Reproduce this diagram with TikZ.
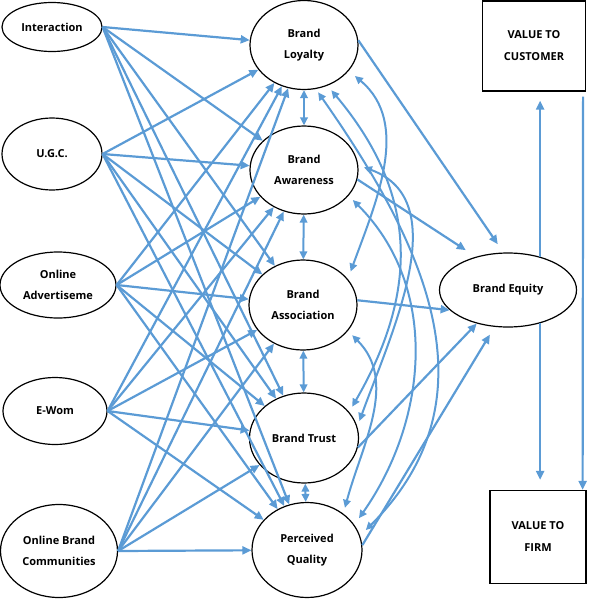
\documentclass[tikz,border=0pt]{standalone}
\usepackage{fontspec}
\setmainfont{Open Sans}
\usetikzlibrary{arrows.meta,shapes.geometric,calc}
\definecolor{linkblue}{RGB}{91,155,213}

\begin{document}
\begin{tikzpicture}[x=1pt, y=-1pt,
    oval/.style   = {ellipse, draw=black, line width=1.2pt, fill=white, inner sep=0pt,
                     align=center, font=\fontsize{11}{21}\selectfont\bfseries},
    valbox/.style = {rectangle, draw=black, line width=1.2pt, fill=white, inner sep=0pt,
                     align=center, font=\fontsize{11}{22}\selectfont\bfseries},
    arr/.style    = {-{Triangle[length=9pt,width=8pt]}, line width=2.2pt, draw=linkblue},
    darr/.style   = {{Triangle[length=8pt,width=7.5pt]}-{Triangle[length=8pt,width=7.5pt]},
                     line width=2pt, draw=linkblue}
  ]
    \useasboundingbox (0,0) rectangle (591,600);

    % online activities
    \node[oval, minimum width=100pt, minimum height=49pt] (inter) at (52,27)  {Interaction};
    \node[oval, minimum width=100pt, minimum height=72pt] (ugc)   at (52,154) {U.G.C.};
    \node[oval, minimum width=116pt, minimum height=66pt] (adv)   at (58,285) {Online\\Advertiseme};
    \node[oval, minimum width=104pt, minimum height=67pt] (ewom)  at (55,411) {E-Wom};
    \node[oval, minimum width=117pt, minimum height=93pt] (obc)   at (59,551) {Online Brand\\Communities};

    % brand equity dimensions
    \node[oval, minimum width=108pt, minimum height=89pt] (loy)   at (304,45)  {Brand\\Loyalty};
    \node[oval, minimum width=108pt, minimum height=88pt] (awa)   at (304,170) {Brand\\Awareness};
    \node[oval, minimum width=108pt, minimum height=90pt] (assoc) at (303,305) {Brand\\Association};
    \node[oval, minimum width=109pt, minimum height=90pt] (trust) at (304,438) {Brand Trust};
    \node[oval, minimum width=110pt, minimum height=95pt] (perc)  at (307,550) {Perceived\\Quality};

    \node[oval, minimum width=137pt, minimum height=74pt] (equity) at (508,290) {Brand Equity};

    \node[valbox, minimum width=103pt, minimum height=90pt] (cust) at (534,46)  {VALUE TO\\CUSTOMER};
    \node[valbox, minimum width=96pt,  minimum height=93pt] (firm) at (538,537) {VALUE TO\\FIRM};

    % every activity to every dimension
    \foreach \src in {inter,ugc,adv,ewom,obc}
      \foreach \dst in {loy,awa,assoc,trust,perc}
        \draw[arr] (\src.east) -- (\dst);

    % neighbouring dimensions
    \foreach \a/\b in {loy/awa,awa/assoc,assoc/trust,trust/perc}
      \draw[darr] (\a) -- (\b);

    % covariances further apart
    \draw[darr, shorten <=8pt, shorten >=8pt] (loy.-30) to[out=-40,in=70] (assoc.30);
    \draw[darr, shorten <=6pt, shorten >=6pt] (loy.-60) to[out=-50,in=60,looseness=1.1] (trust.30);
    \draw[darr, shorten <=4pt, shorten >=8pt] (loy.-75) to[out=-55,in=45,looseness=1.1] (perc.15);
    \draw[darr, shorten <=6pt, shorten >=6pt] (awa.5) to[out=-20,in=70] (trust.12);
    \draw[darr, shorten <=6pt, shorten >=8pt] (awa.-30) to[out=-45,in=55] (perc.28);
    \draw[darr, shorten <=6pt, shorten >=6pt] (assoc.-30) to[out=-45,in=75] (perc.45);

    % dimensions to brand equity
    \draw[arr, shorten >=10pt] (loy.5)     -- (equity.97);
    \draw[arr, shorten >=12pt] (awa.-10)   -- (equity.134);
    \draw[arr]                 (assoc.5)   -- (equity.199);
    \draw[arr]                 (trust.-10) -- (equity.227);
    \draw[arr, shorten >=9pt]  (perc.5)    -- (equity.250);

    % brand equity to value
    \draw[arr, shorten >=9pt]  (equity.46)  -- (equity.46 |- cust.south);
    \draw[arr, shorten >=10pt] (equity.-46) -- (equity.-46 |- firm.north);
    \draw[arr] ([xshift=-3pt,yshift=-5pt]cust.south east) -- ([xshift=-4pt]firm.north east);
  \end{tikzpicture}
\end{document}
